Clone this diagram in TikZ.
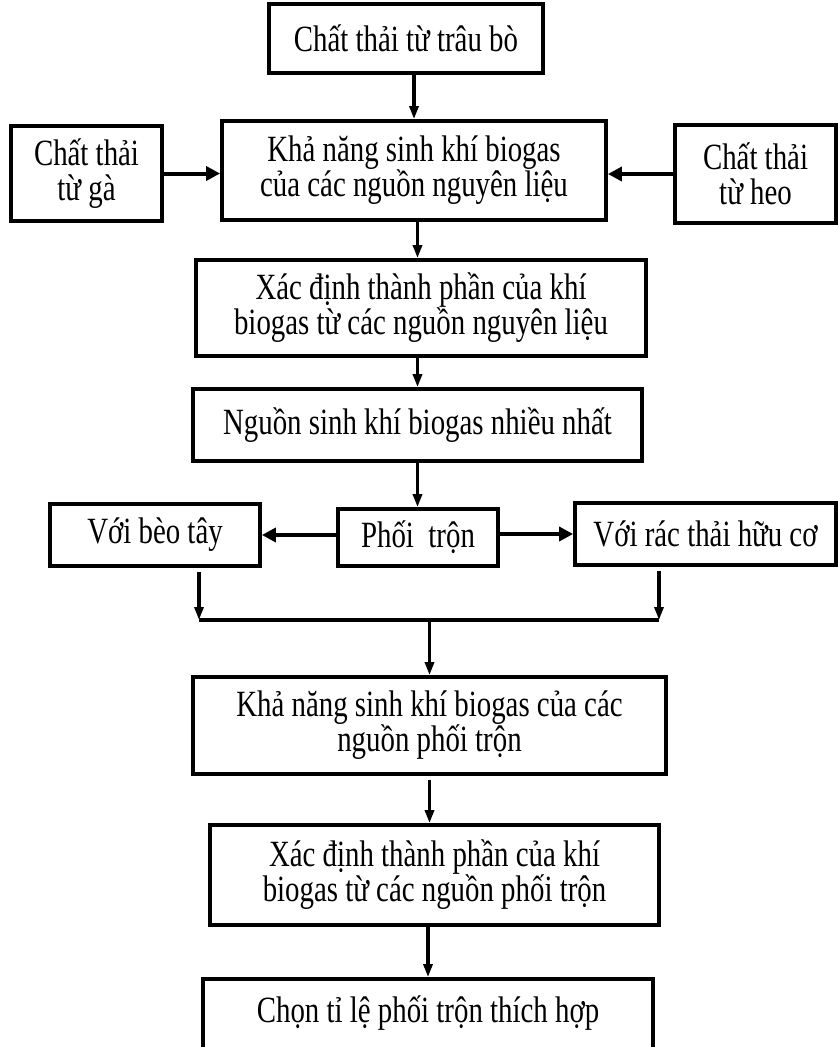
\documentclass[tikz,border=0pt]{standalone}
\usepackage{fontspec}
\setmainfont{Liberation Serif}[FakeStretch=0.78]
\usetikzlibrary{arrows.meta}

\begin{document}
\begin{tikzpicture}[x=1pt, y=-1pt,
  box/.style={draw, line width=3.8pt, inner sep=0pt, align=center,
    font=\fontsize{37}{35}\selectfont},
  arr/.style={line width=3.1pt, -{Triangle[length=13pt,width=9pt]}},
  harr/.style={line width=4pt, -{Triangle[length=14pt,width=14pt]}}]
  \useasboundingbox (0,0) rectangle (838,1047);

  % nguyen lieu
  \node (trau) [box, minimum width=274, minimum height=69] at (406,38.5) {Chất thải từ trâu bò};
  \node (kn1) [box, minimum width=384, minimum height=99] at (414,170.5) {Khả năng sinh khí biogas\\của các nguồn nguyên liệu};
  \node (ga) [box, minimum width=151, minimum height=95] at (86.5,173.5) {Chất thải\\từ gà};
  \node (heo) [box, minimum width=161, minimum height=98] at (755.5,174) {Chất thải\\từ heo};
  \node (xd1) [box, minimum width=450, minimum height=96] at (421,308) {Xác định thành phần của khí\\biogas từ các nguồn nguyên liệu};
  \node (nhieu) [box, minimum width=449, minimum height=72] at (417.5,425) {Nguồn sinh khí biogas nhiều nhất};

  % phoi tron
  \node (phoi) [box, minimum width=160, minimum height=57] at (418,537.5) {Phối~ trộn};
  \node (beo) [box, minimum width=210, minimum height=62] at (155,535) {Với bèo tây};
  \node (rac) [box, minimum width=261, minimum height=62] at (705.5,534) {Với rác thải hữu cơ};
  \node (kn2) [box, minimum width=473, minimum height=97] at (429.5,725.5) {Khả năng sinh khí biogas của các\\nguồn phối trộn};
  \node (xd2) [box, minimum width=449, minimum height=100] at (434.5,875) {Xác định thành phần của khí\\biogas từ các nguồn phối trộn};
  \node (chon) [box, minimum width=450, minimum height=96] at (428,1027) {Chọn tỉ lệ phối trộn thích hợp\\\mbox{}};

  \coordinate (gopL) at (199,620);
  \coordinate (gopR) at (659,620);

  \draw[arr] (trau.south -| kn1.north) -- (kn1.north);
  \draw[harr] (ga.east) -- (ga.east -| kn1.west);
  \draw[harr] (heo.west) -- (heo.west -| kn1.east);
  \draw[arr] (kn1.south -| nhieu.north) -- (xd1.north -| nhieu.north);
  \draw[arr] (xd1.south -| nhieu.north) -- (nhieu.north);
  \draw[arr] (nhieu.south) -- (nhieu.south |- phoi.north);
  \draw[harr] (phoi.west |- beo.east) -- (beo.east);
  \draw[harr] (phoi.east |- rac.west) -- (rac.west);

  \draw[arr, shorten <=4pt] (beo.south -| gopL) -- (gopL);
  \draw[arr, shorten <=4pt] (rac.south -| gopR) -- (gopR);
  \draw[line width=3.6pt] (gopL) -- (gopR);
  \draw[arr] (gopL -| kn2.north) -- (kn2.north);
  \draw[arr, shorten <=4pt] (kn2.south) -- (kn2.south |- xd2.north);
  \draw[arr] (xd2.south -| chon.north) -- (chon.north);
\end{tikzpicture}
\end{document}
